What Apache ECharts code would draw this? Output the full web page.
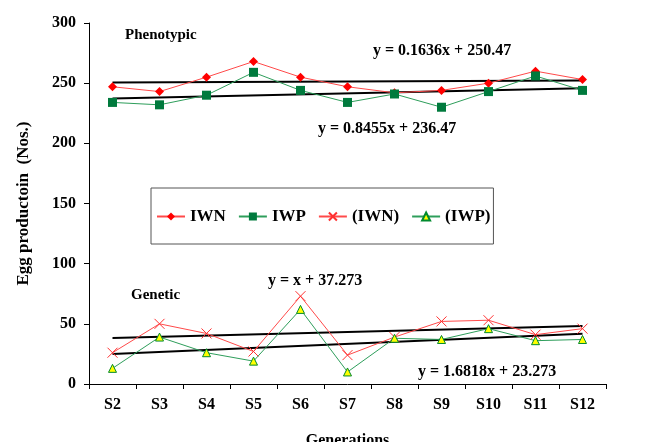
<!DOCTYPE html>
<html>
<head>
<meta charset="utf-8">
<script src="https://cdn.jsdelivr.net/npm/echarts@6/dist/echarts.min.js"></script>
<style>
  html, body { margin: 0; padding: 0; background: #fff; }
  #chart { width: 648px; height: 442px; }
</style>
</head>
<body>
<div id="chart"></div>
<script>
var generations = ['S2', 'S3', 'S4', 'S5', 'S6', 'S7', 'S8', 'S9', 'S10', 'S11', 'S12'];

// phenotypic egg production
var iwn = [247, 243, 255, 268, 255, 247, 242, 244, 250, 260, 253];
var iwp = [234, 232, 240, 259, 244, 234, 241, 230, 243, 256, 244];
// genetic
var iwnGen = [26, 50, 42, 27, 73, 24, 39, 52, 53, 41, 46];
var iwpGen = [13, 39, 26, 19, 62, 10, 38, 37, 46, 36, 37];

// trend lines, start (S2) and end (S12)
var trendIwn = [250.6, 252.3];
var trendIwp = [237.3, 245.8];
var trendIwnGen = [38.3, 48.3];
var trendIwpGen = [25.0, 41.8];

var serif = 'Liberation Serif';

function trendData(t) {
  return [[generations[0], t[0]], [generations[generations.length - 1], t[1]]];
}

function trendSeries(t) {
  return {
    type: 'line',
    data: trendData(t),
    symbol: 'none',
    silent: true,
    lineStyle: { color: '#000', width: 2 },
    z: 1
  };
}

var chart = echarts.init(document.getElementById('chart'));

var option = {
  backgroundColor: '#fff',
  animation: false,
  grid: { left: 89, right: 42, top: 23, bottom: 58, outerBoundsMode: 'none', containLabel: false },
  legend: {
    data: ['IWN', 'IWP', '(IWN)', '(IWP)'],
    left: 151,
    top: 188,
    width: 344,
    padding: [20, 3, 19, 5],
    itemGap: 12,
    itemWidth: 28,
    itemHeight: 10,
    borderColor: '#555',
    borderWidth: 1,
    textStyle: { fontFamily: serif, fontWeight: 'bold', fontSize: 17, color: '#000' }
  },
  xAxis: {
    type: 'category',
    data: generations,
    boundaryGap: true,
    name: 'Generations',
    nameLocation: 'middle',
    nameGap: 49,
    nameTextStyle: { fontFamily: serif, fontWeight: 'bold', fontSize: 16, color: '#000' },
    axisLine: { lineStyle: { color: '#000', width: 1 } },
    axisTick: { show: true, length: 5, lineStyle: { color: '#000' } },
    axisLabel: { fontFamily: serif, fontWeight: 'bold', fontSize: 16, color: '#000', margin: 13 },
    splitLine: { show: false }
  },
  yAxis: {
    type: 'value',
    min: 0,
    max: 300,
    interval: 50,
    name: 'Egg productoin  (Nos.)',
    nameLocation: 'middle',
    nameGap: 57,
    nameRotate: 90,
    nameTextStyle: { fontFamily: serif, fontWeight: 'bold', fontSize: 17, color: '#000' },
    axisLine: { show: true, lineStyle: { color: '#000', width: 1 } },
    axisTick: { show: true, length: 5, lineStyle: { color: '#000' } },
    axisLabel: { fontFamily: serif, fontWeight: 'bold', fontSize: 16, color: '#000', margin: 13 },
    splitLine: { show: false }
  },
  series: [
    {
      name: 'IWN', type: 'line', data: iwn,
      symbol: 'diamond', symbolSize: 9,
      itemStyle: { color: '#ff0000' },
      lineStyle: { color: '#ff4a4a', width: 1 },
      z: 3
    },
    {
      name: 'IWP', type: 'line', data: iwp,
      symbol: 'rect', symbolSize: 9,
      itemStyle: { color: '#007a3d' },
      lineStyle: { color: '#2e9e5b', width: 1 },
      z: 3
    },
    {
      name: '(IWN)', type: 'line', data: iwnGen,
      symbol: 'path://M0,0L10,10M10,0L0,10', symbolSize: 10,
      itemStyle: { color: 'none', borderColor: '#ff3030', borderWidth: 1 },
      lineStyle: { color: '#ff4a4a', width: 1 },
      z: 3
    },
    {
      name: '(IWP)', type: 'line', data: iwpGen,
      symbol: 'triangle', symbolSize: 8,
      itemStyle: { color: '#ffff00', borderColor: '#008a2e', borderWidth: 1 },
      lineStyle: { color: '#2e9e5b', width: 1 },
      z: 3
    },
    trendSeries(trendIwn),
    trendSeries(trendIwp),
    trendSeries(trendIwnGen),
    trendSeries(trendIwpGen)
  ],
  graphic: [
    { type: 'text', left: 125, top: 28, style: { text: 'Phenotypic', font: 'bold 15px ' + serif, fill: '#000' } },
    { type: 'text', left: 373, top: 43, style: { text: 'y = 0.1636x + 250.47', font: 'bold 16px ' + serif, fill: '#000' } },
    { type: 'text', left: 318, top: 121, style: { text: 'y = 0.8455x + 236.47', font: 'bold 16px ' + serif, fill: '#000' } },
    { type: 'text', left: 131, top: 288, style: { text: 'Genetic', font: 'bold 15px ' + serif, fill: '#000' } },
    { type: 'text', left: 268, top: 273, style: { text: 'y = x + 37.273', font: 'bold 16px ' + serif, fill: '#000' } },
    { type: 'text', left: 418, top: 364, style: { text: 'y = 1.6818x + 23.273', font: 'bold 16px ' + serif, fill: '#000' } }
  ]
};

chart.setOption(option);
</script>
</body>
</html>
